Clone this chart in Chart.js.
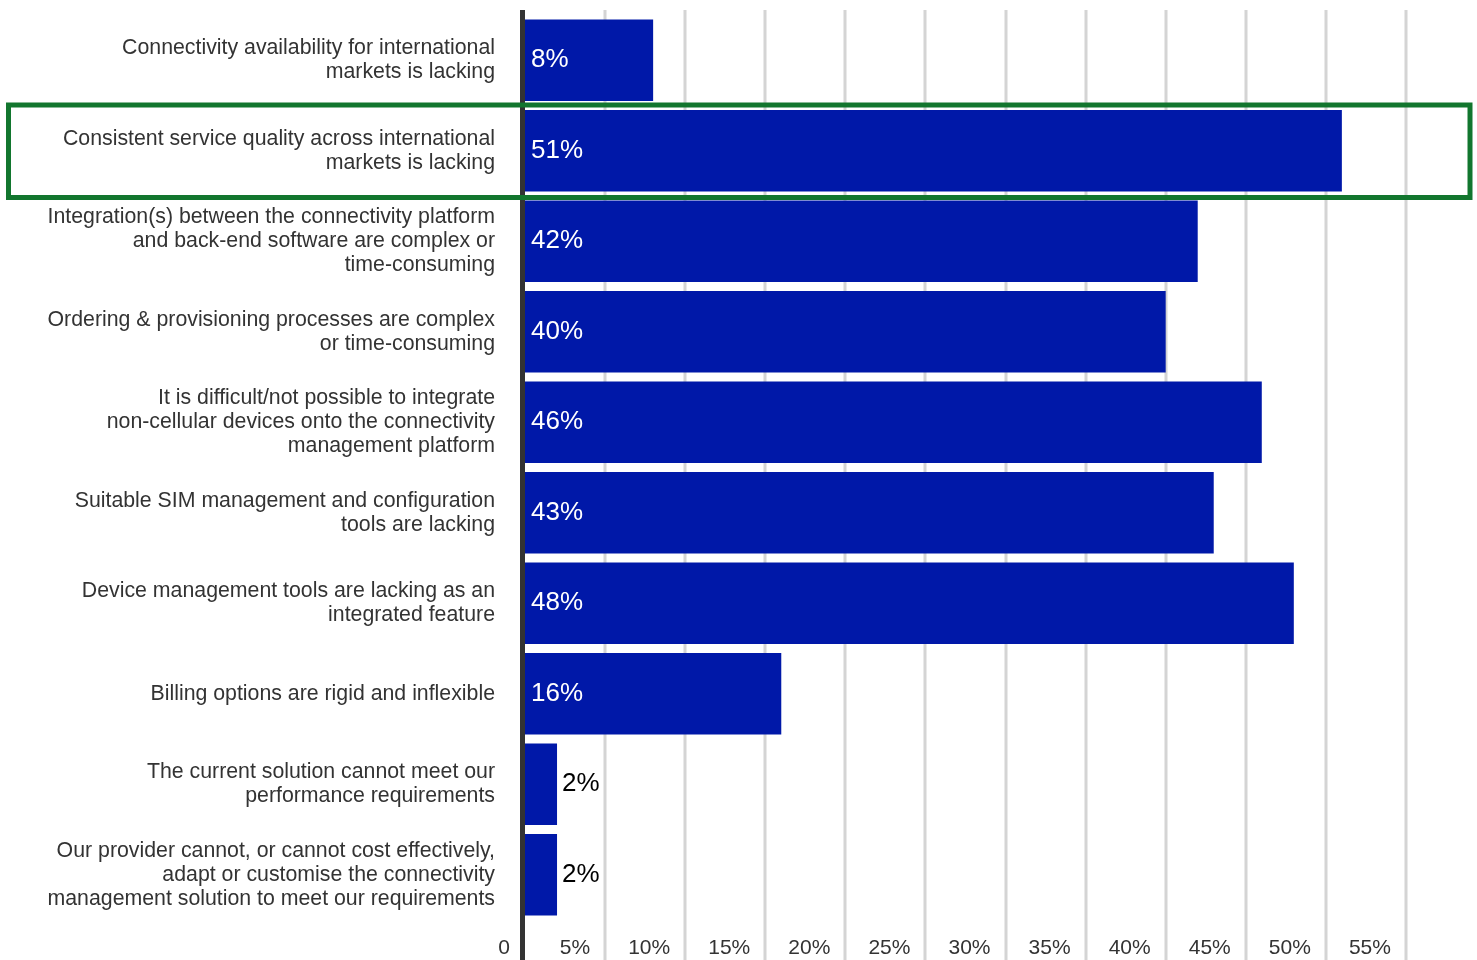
<!DOCTYPE html>
<html>
<head>
<meta charset="utf-8">
<script src="https://cdn.jsdelivr.net/npm/chart.js@4.4.0/dist/chart.umd.min.js"></script>
<style>
  html, body { margin: 0; padding: 0; background: #fff; }
  canvas { display: block; }
</style>
</head>
<body>
<canvas id="barChart" width="1477" height="960"></canvas>
<script>
const categories = [
  ["Connectivity availability for international", "markets is lacking"],
  ["Consistent service quality across international", "markets is lacking"],
  ["Integration(s) between the connectivity platform", "and back-end software are complex or", "time-consuming"],
  ["Ordering & provisioning processes are complex", "or time-consuming"],
  ["It is difficult/not possible to integrate", "non-cellular devices onto the connectivity", "management platform"],
  ["Suitable SIM management and configuration", "tools are lacking"],
  ["Device management tools are lacking as an", "integrated feature"],
  "Billing options are rigid and inflexible",
  ["The current solution cannot meet our", "performance requirements"],
  ["Our provider cannot, or cannot cost effectively,", "adapt or customise the connectivity", "management solution to meet our requirements"]
];
const shares = [8, 51, 42, 40, 46, 43, 48, 16, 2, 2];
const xTicks = [0, 5, 10, 15, 20, 25, 30, 35, 40, 45, 50, 55];
const highlighted = 1;

const FONT = '"Liberation Sans", Arial, sans-serif';
Chart.defaults.font.family = FONT;

// vertical gridlines and the thick left axis, running past the plot area
const frame = {
  id: 'frame',
  beforeDatasetsDraw(chart) {
    const ctx = chart.ctx, x = chart.scales.x;
    ctx.save();
    ctx.strokeStyle = '#d4d4d4';
    ctx.lineWidth = 3;
    x.ticks.forEach(t => {
      if (t.value === 0) return;
      const px = Math.round(x.getPixelForValue(t.value));
      ctx.beginPath();
      ctx.moveTo(px, 10);
      ctx.lineTo(px, chart.height);
      ctx.stroke();
    });
    ctx.fillStyle = '#333';
    ctx.fillRect(chart.chartArea.left - 5, 10, 5, chart.height - 10);
    ctx.restore();
  }
};

// percentage text on each bar, outside when the bar is too short
const valueLabels = {
  id: 'valueLabels',
  afterDatasetsDraw(chart) {
    const ctx = chart.ctx;
    const meta = chart.getDatasetMeta(0);
    ctx.save();
    ctx.font = '26px ' + FONT;
    ctx.textBaseline = 'middle';
    ctx.textAlign = 'left';
    meta.data.forEach((bar, i) => {
      const text = shares[i] + '%';
      const w = ctx.measureText(text).width;
      const inside = bar.x - bar.base > w + 12;
      ctx.fillStyle = inside ? '#fff' : '#000';
      ctx.fillText(text, inside ? bar.base + 6 : bar.x + 5, bar.y);
    });
    ctx.restore();
  }
};

// green box around the highlighted row
const highlightBox = {
  id: 'highlightBox',
  afterDraw(chart) {
    const ctx = chart.ctx, y = chart.scales.y;
    const band = (y.getPixelForValue(1) - y.getPixelForValue(0));
    const cy = y.getPixelForValue(highlighted);
    ctx.save();
    ctx.strokeStyle = '#12762e';
    ctx.lineWidth = 5;
    ctx.strokeRect(8.5, cy - band / 2 - 0.5, chart.chartArea.right - 8.5, band + 2);
    ctx.restore();
  }
};

const noPadding = scale => {
  scale.paddingTop = 0;
  scale.paddingBottom = 0;
  scale.paddingLeft = 0;
  scale.paddingRight = 0;
};

new Chart(document.getElementById('barChart'), {
  type: 'bar',
  data: {
    labels: categories,
    datasets: [{
      data: shares,
      backgroundColor: '#0018a8',
      barPercentage: 0.9,
      categoryPercentage: 1.0
    }]
  },
  options: {
    indexAxis: 'y',
    responsive: false,
    animation: false,
    layout: { autoPadding: false, padding: { top: 15, right: 7, left: 0, bottom: 0 } },
    plugins: {
      legend: { display: false },
      tooltip: { enabled: false }
    },
    scales: {
      x: {
        min: 0,
        max: 59,
        afterBuildTicks: scale => { scale.ticks = xTicks.map(v => ({ value: v })); },
        afterFit: scale => { scale.height = 40; noPadding(scale); },
        grid: { display: false, drawTicks: false },
        border: { display: false },
        ticks: {
          align: 'end',
          labelOffset: -15,
          padding: 16,
          color: '#333',
          font: { size: 21 },
          maxRotation: 0,
          autoSkip: false,
          callback: v => v === 0 ? '0' : v + '%'
        }
      },
      y: {
        afterFit: scale => { scale.width = 525; noPadding(scale); },
        grid: { display: false, drawTicks: false },
        border: { display: false },
        ticks: {
          padding: 30,
          color: '#333',
          font: { size: 21.3, lineHeight: 1.13 },
          autoSkip: false
        }
      }
    }
  },
  plugins: [frame, valueLabels, highlightBox]
});
</script>
</body>
</html>
